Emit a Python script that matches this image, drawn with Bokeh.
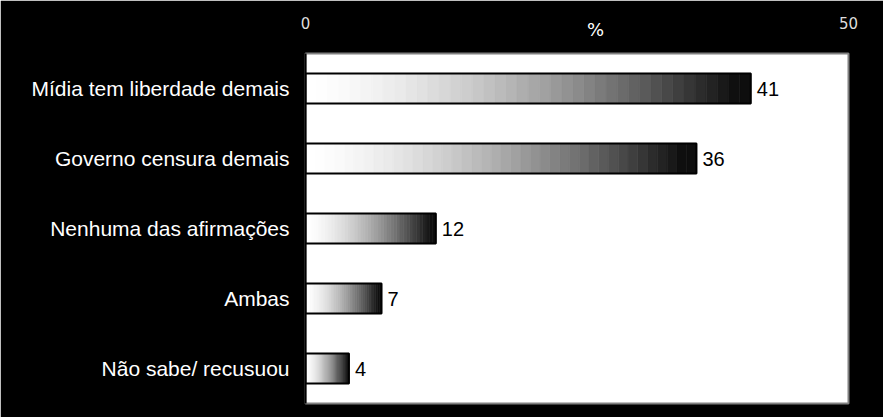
from bokeh.plotting import figure
from bokeh.models import Range1d, FactorRange, FixedTicker, LinearAxis
from bokeh.embed import file_html
from bokeh.resources import INLINE
from bokeh.core.properties import value

categories = ["Mídia tem liberdade demais", "Governo censura demais",
              "Nenhuma das afirmações", "Ambas", "Não sabe/ recusuou"]
values = [41, 36, 12, 7, 4]
x_ticks = [0, 50]
axis_title = "%"
axis_title_pos = 26.7  # where the "%" sits along the top axis

p = figure(width=883, height=417, output_backend="svg", toolbar_location=None,
           x_range=Range1d(0, 50), y_range=FactorRange(*reversed(categories)),
           x_axis_location="above",
           min_border_left=305, min_border_top=53, min_border_right=35, min_border_bottom=14)

p.border_fill_color = "black"
p.background_fill_color = "white"
p.outline_line_color = "#808080"
p.outline_line_width = 2
p.xgrid.grid_line_color = None
p.ygrid.grid_line_color = None

# gradient bands for each bar (white -> black)
n = 40
ys, lefts, rights, cols = [], [], [], []
for cat, v in zip(categories, values):
    for k in range(n):
        t = (k + 0.5) / n
        c = max(14, int(round(255 * (1 - t ** 1.6))))
        ys.append(cat)
        lefts.append(v * k / n)
        rights.append(v * (k + 1) / n)
        cols.append("#%02x%02x%02x" % (c, c, c))
p.hbar(y=ys, left=lefts, right=rights, height=0.43, fill_color=cols,
       line_color=cols, line_width=0.6)
p.hbar(y=categories, left=0, right=values, height=0.43, fill_color=None,
       line_color="black", line_width=2)

p.text(x=values, y=categories, text=[str(v) for v in values], x_offset=6,
       text_baseline="middle", text_align="left",
       text_font=value("Liberation Sans"), text_font_size="20px", text_color="black")

xa = p.xaxis[0]
xa.ticker = FixedTicker(ticks=x_ticks)
xa.axis_line_color = None
xa.major_tick_line_color = None
xa.minor_tick_line_color = None
xa.major_tick_out = 0
xa.major_label_text_color = "#dddddd"
xa.major_label_text_font = "DejaVu Sans"
xa.major_label_text_font_size = "15px"
xa.major_label_standoff = -13

pa = LinearAxis(ticker=FixedTicker(ticks=[axis_title_pos]),
                major_label_overrides={axis_title_pos: axis_title})
pa.axis_line_color = None
pa.major_tick_line_color = None
pa.minor_tick_line_color = None
pa.major_tick_out = 0
pa.major_label_text_color = "white"
pa.major_label_text_font = "DejaVu Sans"
pa.major_label_text_font_size = "18px"
pa.major_label_standoff = 14
p.add_layout(pa, "above")
p.above = [pa, xa]

ya = p.yaxis[0]
ya.axis_line_color = "black"
ya.axis_line_width = 2
ya.major_tick_line_color = None
ya.minor_tick_line_color = None
ya.major_label_text_color = "white"
ya.major_label_text_font = "Liberation Sans"
ya.major_label_text_font_size = "21px"
ya.major_label_standoff = 10

open("out.html", "w").write(file_html(p, INLINE))
